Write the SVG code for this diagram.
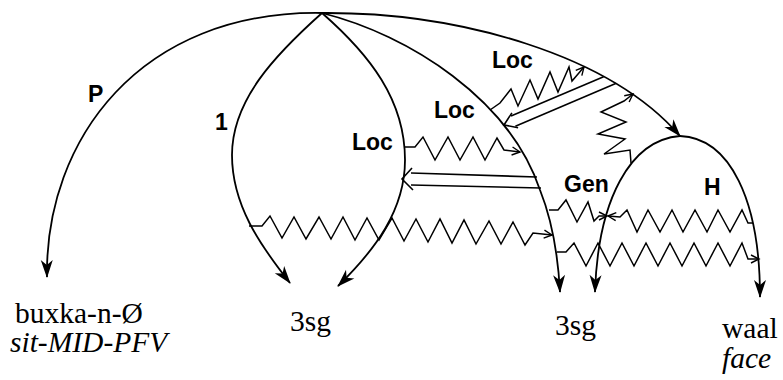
<svg xmlns="http://www.w3.org/2000/svg" width="783" height="380" viewBox="0 0 783 380">
<style>
.arc{fill:none;stroke:#000;stroke-width:1.8}
.zz{fill:none;stroke:#000;stroke-width:1.5;stroke-linejoin:miter}
.dbl{fill:none;stroke:#000;stroke-width:1.6}
.lbl{font-family:"Liberation Sans",Arial,sans-serif;font-size:23px;font-weight:bold;fill:#000}
.gl{font-family:"Liberation Serif","Times New Roman",serif;font-size:29.5px;fill:#000}
.it{font-style:italic}
</style>
<defs>
<marker id="ah" markerUnits="userSpaceOnUse" viewBox="0 0 18 12" markerWidth="18" markerHeight="12" refX="17" refY="6" orient="auto" overflow="visible">
<path d="M0,0 L18,6 L0,12 L5,6 z" fill="#000"/>
</marker>
<marker id="oa" markerUnits="userSpaceOnUse" viewBox="0 0 10 10" markerWidth="10" markerHeight="10" refX="9" refY="5" orient="auto" overflow="visible">
<path d="M1,1 L9,5 L1,9" fill="none" stroke="#000" stroke-width="1.4"/>
</marker>
</defs>
<rect width="783" height="380" fill="#fff"/>
<g id="connectors">
<path class="arc" d="M322,13 C140,10 45,140 47,277" marker-end="url(#ah)"/>
<path class="arc" d="M322,13 C275,55 232,100 232,155 C232,205 260,245 290,283" marker-end="url(#ah)"/>
<path class="arc" d="M322,13 C370,55 405,100 405,160 C405,210 375,250 338,286" marker-end="url(#ah)"/>
<path class="arc" d="M322,13 C410,35 510,100 540,190 C552,220 558,255 560,292" marker-end="url(#ah)"/>
<path class="arc" d="M322,13 C460,12 610,55 680,136" marker-end="url(#ah)"/>
<path class="arc" d="M680,136 C630,140 598,200 595,292" marker-end="url(#ah)"/>
<path class="arc" d="M680,136 C730,138 760,200 760,297" marker-end="url(#ah)"/>
<polyline class="zz" points="490,110 500,103 511,89 518,106 530,80 538,99 550,72 558,92 569,67 572,81 584,67" marker-end="url(#oa)"/>
<polyline class="zz" points="631,163 630,150 604,154 625,139 598,134 626,122 601,112 624,101 633,94" marker-end="url(#oa)"/>
<polyline class="zz" points="405,147 415,147 423,137 435,160 448,137 460,160 473,137 485,160 497,138 504,150 520,152" marker-end="url(#oa)"/>
<polyline class="zz" points="249,226 262,226 270,216 282,238 294,217 306,239 319,217 331,239 343,217 355,240 367,218 379,240 392,218 404,241 416,219 428,242 440,219 452,243 464,220 476,244 489,221 501,244 513,222 525,245 533,233 552,235" marker-end="url(#oa)"/>
<polyline class="zz" points="549,210 558,210 566,200 577,222 588,202 594,221 599,216 607,216" marker-end="url(#oa)"/>
<polyline class="zz" points="753,223 748,223 742,210 730,232 718,210 707,232 695,210 683,232 672,210 660,232 648,210 637,232 627,210 620,217 608,216" marker-end="url(#oa)"/>
<polyline class="zz" points="557,252 566,252 574,243 586,266 598,243 610,266 622,243 634,266 646,243 658,266 670,243 682,266 694,243 706,266 718,243 730,266 742,243 748,259 759,259" marker-end="url(#oa)"/>
<g id="dbl-top">
<line class="dbl" x1="603.6" y1="76.7" x2="511" y2="116"/>
<line class="dbl" x1="615.7" y1="83.6" x2="515.4" y2="126.2"/>
<polyline class="dbl" points="511.9,112.9 504,125 518.1,127.7"/>
</g>
<g id="dbl-mid">
<line class="dbl" x1="411" y1="173" x2="537" y2="177"/>
<line class="dbl" x1="411" y1="185" x2="541" y2="188"/>
<polyline class="dbl" points="412,168 402,179 413,190"/>
</g>
</g>
<g id="labels">
<text class="lbl" x="88" y="102">P</text>
<text class="lbl" x="215" y="130">1</text>
<text class="lbl" x="352" y="150">Loc</text>
<text class="lbl" x="434" y="118">Loc</text>
<text class="lbl" x="492" y="68">Loc</text>
<text class="lbl" x="564" y="192">Gen</text>
<text class="lbl" x="704" y="195">H</text>
</g>
<g id="node-buxka">
<text class="gl" x="15" y="323">buxka-n-Ø</text>
<text class="gl it" x="10" y="352">sit-MID-PFV</text>
</g>
<g id="node-3sg-1"><text class="gl" x="290" y="331">3sg</text></g>
<g id="node-3sg-2"><text class="gl" x="555" y="335">3sg</text></g>
<g id="node-waal">
<text class="gl" x="722" y="338">waal</text>
<text class="gl it" x="722" y="368">face</text>
</g>
</svg>
